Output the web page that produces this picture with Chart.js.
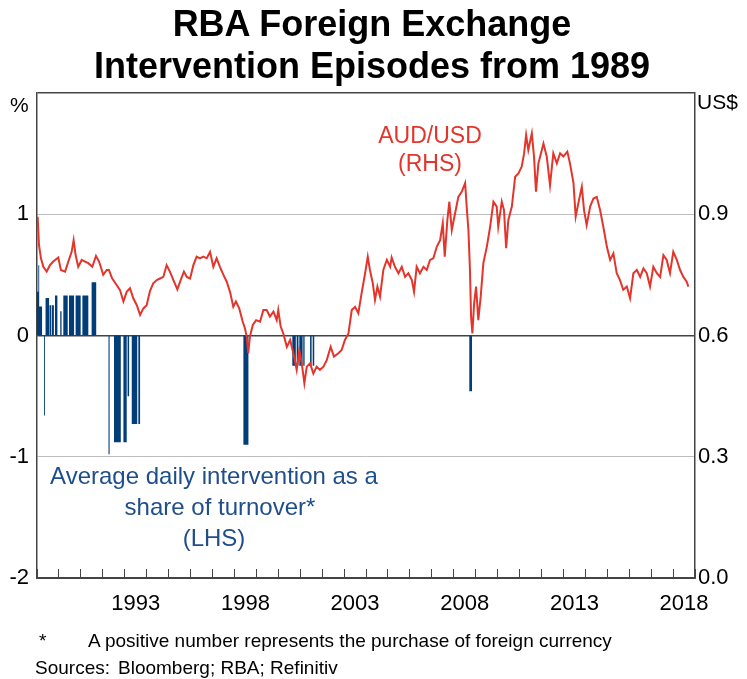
<!DOCTYPE html>
<html>
<head>
<meta charset="utf-8">
<script src="https://cdn.jsdelivr.net/npm/chart.js@4.4.1/dist/chart.umd.min.js"></script>
<style>
  html, body { margin: 0; padding: 0; background: #fff; }
  #wrap { position: relative; width: 747px; height: 679px; font-family: 'Liberation Sans', Arial, sans-serif; }
  #c { position: absolute; left: 0; top: 0; }
  .t { position: absolute; white-space: nowrap; }
  .title { left: 0; width: 744px; top: 3px; text-align: center; font-weight: bold; font-size: 36px; line-height: 42px; color: #000; }
  .unit { font-size: 21px; color: #000; }
  .aud { left: 330px; width: 200px; top: 121px; text-align: center; font-size: 23px; line-height: 28px; color: #e3352b; }
  .lhs { left: 14px; width: 400px; top: 460px; text-align: center; font-size: 24px; line-height: 31px; color: #1f4e8c; }
  .lhs span { position: relative; left: 6px; }
  .note { font-size: 19px; color: #000; }
</style>
</head>
<body>
<div id="wrap">
  <canvas id="c" width="747" height="679"></canvas>
  <div class="t title">RBA Foreign Exchange<br>Intervention Episodes from 1989</div>
  <div class="t unit" style="left:10px; top:93px;">%</div>
  <div class="t unit" style="left:697px; top:90px;">US$</div>
  <div class="t aud">AUD/USD<br>(RHS)</div>
  <div class="t lhs">Average daily intervention as a<br><span>share of turnover*</span><br>(LHS)</div>
  <div class="t note" style="left:39px; top:630px;">*</div>
  <div class="t note" style="left:88px; top:630px;">A positive number represents the purchase of foreign currency</div>
  <div class="t note" style="left:35px; top:657px;">Sources:</div>
  <div class="t note" style="left:118px; top:657px;">Bloomberg; RBA; Refinitiv</div>
</div>
<script>
// AUD/USD (RHS), decimal years
var audYears = [
  1989.03, 1989.09, 1989.18, 1989.29, 1989.44, 1989.59, 1989.74, 1989.97, 1990.09, 1990.28,
  1990.43, 1990.58, 1990.67, 1990.76, 1990.88, 1991.04, 1991.19, 1991.34, 1991.52, 1991.69,
  1991.83, 1992.02, 1992.18, 1992.28, 1992.43, 1992.63, 1992.78, 1992.94, 1993.09, 1993.24,
  1993.39, 1993.55, 1993.70, 1993.85, 1994.00, 1994.15, 1994.30, 1994.46, 1994.61, 1994.76,
  1994.91, 1995.06, 1995.22, 1995.40, 1995.55, 1995.70, 1995.83, 1995.98, 1996.13, 1996.28,
  1996.43, 1996.58, 1996.74, 1996.89, 1997.04, 1997.19, 1997.34, 1997.50, 1997.65, 1997.80,
  1997.95, 1998.07, 1998.22, 1998.38, 1998.48, 1998.56, 1998.63, 1998.71, 1998.84, 1998.99,
  1999.17, 1999.32, 1999.47, 1999.62, 1999.78, 1999.93, 2000.00, 2000.11, 2000.23, 2000.39,
  2000.54, 2000.69, 2000.84, 2000.96, 2001.07, 2001.19, 2001.30, 2001.45, 2001.60, 2001.75,
  2001.90, 2002.06, 2002.21, 2002.39, 2002.54, 2002.74, 2002.89, 2003.04, 2003.20, 2003.35,
  2003.50, 2003.65, 2003.81, 2003.96, 2004.08, 2004.18, 2004.31, 2004.41, 2004.52, 2004.64,
  2004.79, 2004.95, 2005.10, 2005.17, 2005.32, 2005.48, 2005.63, 2005.78, 2005.93, 2006.09,
  2006.19, 2006.31, 2006.46, 2006.62, 2006.77, 2006.92, 2007.07, 2007.23, 2007.38, 2007.50,
  2007.59, 2007.71, 2007.80, 2007.91, 2008.06, 2008.21, 2008.37, 2008.52, 2008.60, 2008.67,
  2008.74, 2008.79, 2008.85, 2008.93, 2009.02, 2009.12, 2009.23, 2009.35, 2009.51, 2009.66,
  2009.81, 2009.96, 2010.03, 2010.19, 2010.29, 2010.39, 2010.49, 2010.65, 2010.80, 2010.95,
  2011.10, 2011.21, 2011.30, 2011.40, 2011.56, 2011.66, 2011.75, 2011.86, 2011.94, 2012.09,
  2012.24, 2012.39, 2012.54, 2012.70, 2012.85, 2013.00, 2013.18, 2013.30, 2013.46, 2013.56,
  2013.71, 2013.84, 2013.94, 2014.06, 2014.22, 2014.37, 2014.52, 2014.67, 2014.82, 2014.98,
  2015.13, 2015.28, 2015.43, 2015.58, 2015.73, 2015.89, 2016.04, 2016.19, 2016.35, 2016.50,
  2016.65, 2016.80, 2016.95, 2017.10, 2017.26, 2017.41, 2017.56, 2017.71, 2017.86, 2018.01,
  2018.17, 2018.32, 2018.47, 2018.62, 2018.70
];
var audValues = [
  0.894, 0.824, 0.791, 0.770, 0.758, 0.774, 0.783, 0.793, 0.762, 0.758,
  0.783, 0.807, 0.836, 0.799, 0.770, 0.787, 0.783, 0.779, 0.770, 0.797,
  0.783, 0.750, 0.762, 0.762, 0.741, 0.725, 0.713, 0.684, 0.708, 0.717,
  0.692, 0.675, 0.651, 0.667, 0.675, 0.710, 0.729, 0.737, 0.741, 0.745,
  0.774, 0.758, 0.737, 0.714, 0.737, 0.758, 0.745, 0.741, 0.774, 0.795,
  0.791, 0.795, 0.791, 0.807, 0.770, 0.791, 0.770, 0.750, 0.733, 0.708,
  0.671, 0.684, 0.667, 0.634, 0.618, 0.598, 0.556, 0.598, 0.626, 0.638,
  0.634, 0.663, 0.663, 0.647, 0.659, 0.638, 0.663, 0.622, 0.605, 0.572,
  0.589, 0.556, 0.515, 0.564, 0.531, 0.482, 0.523, 0.531, 0.506, 0.523,
  0.515, 0.523, 0.539, 0.572, 0.548, 0.556, 0.564, 0.589, 0.605, 0.663,
  0.671, 0.655, 0.708, 0.754, 0.795, 0.762, 0.729, 0.688, 0.721, 0.696,
  0.762, 0.787, 0.770, 0.793, 0.770, 0.754, 0.770, 0.745, 0.754, 0.737,
  0.708, 0.770, 0.754, 0.770, 0.762, 0.787, 0.791, 0.820, 0.836, 0.878,
  0.795, 0.886, 0.931, 0.861, 0.902, 0.943, 0.956, 0.977, 0.911, 0.861,
  0.762, 0.647, 0.605, 0.680, 0.721, 0.638, 0.696, 0.779, 0.820, 0.869,
  0.931, 0.919, 0.869, 0.931, 0.911, 0.816, 0.886, 0.919, 0.993, 1.001,
  1.018, 1.051, 1.096, 1.059, 1.100, 1.043, 0.956, 1.026, 1.043, 1.075,
  1.043, 0.972, 1.051, 1.026, 1.051, 1.043, 1.055, 1.026, 0.977, 0.894,
  0.935, 0.968, 0.911, 0.873, 0.919, 0.939, 0.943, 0.911, 0.869, 0.820,
  0.787, 0.803, 0.754, 0.737, 0.713, 0.721, 0.692, 0.754, 0.762, 0.745,
  0.766, 0.754, 0.721, 0.770, 0.754, 0.745, 0.799, 0.787, 0.754, 0.807,
  0.787, 0.762, 0.745, 0.733, 0.721
];

// Intervention episodes (LHS, % of turnover)
var barStart = [
  1989.00, 1989.06, 1989.10, 1989.32, 1989.39, 1989.57, 1989.67, 1989.82, 1990.06, 1990.20,
  1990.46, 1990.76, 1991.07, 1991.49, 1992.26, 1992.51, 1992.94, 1993.13, 1993.32, 1993.62,
  1998.41, 2000.64, 2000.84, 2000.96, 2001.14, 2001.45, 2001.57, 2008.71
];
var barEnd = [
  1989.06, 1989.10, 1989.23, 1989.36, 1989.55, 1989.64, 1989.77, 1989.93, 1990.12, 1990.40,
  1990.69, 1990.99, 1991.34, 1991.70, 1992.31, 1992.82, 1993.09, 1993.20, 1993.57, 1993.70,
  1998.64, 2000.80, 2000.92, 2001.11, 2001.20, 2001.52, 2001.64, 2008.84
];
var barValue = [
  0.36, 0.58, 0.24, -0.66, 0.31, 0.25, 0.25, 0.33, 0.20, 0.33,
  0.33, 0.33, 0.33, 0.44, -0.98, -0.88, -0.88, -0.50, -0.73, -0.73,
  -0.90, -0.25, -0.25, -0.25, -0.25, -0.25, -0.25, -0.46
];

var labelYears = [1993, 1998, 2003, 2008, 2013, 2018];

(function() {
  var RED = '#e3352b';
  var BLUE = '#003d79';
  var AXIS = '#444';

  Chart.defaults.font.family = "'Liberation Sans', Arial, sans-serif";
  Chart.defaults.color = '#000';

  var audPoints = audYears.map(function(y, i) { return { x: y, y: audValues[i] }; });

  // each episode becomes a step: value from start, back to zero at end
  var barPoints = [];
  barStart.forEach(function(s, i) {
    barPoints.push({ x: s, y: barValue[i] });
    barPoints.push({ x: barEnd[i], y: 0 });
  });

  new Chart(document.getElementById('c'), {
    type: 'line',
    data: {
      datasets: [
        {
          label: 'AUD/USD',
          data: audPoints,
          yAxisID: 'y1',
          borderColor: RED,
          borderWidth: 2,
          pointRadius: 0,
          tension: 0,
          fill: false
        },
        {
          label: 'Intervention',
          data: barPoints,
          yAxisID: 'y',
          stepped: 'before',
          borderWidth: 0,
          borderColor: 'rgba(0,0,0,0)',
          backgroundColor: BLUE,
          pointRadius: 0,
          fill: 'origin'
        }
      ]
    },
    options: {
      responsive: false,
      animation: false,
      layout: { padding: { top: 93, bottom: 61, left: 0, right: 0 } },
      plugins: { legend: { display: false }, tooltip: { enabled: false } },
      scales: {
        x: {
          type: 'linear',
          min: 1989,
          max: 2019,
          afterFit: function(s) { s.height = 40; },
          border: { color: AXIS, width: 1.5 },
          grid: { drawOnChartArea: false, drawTicks: true, tickLength: -9, color: AXIS, lineWidth: 1 },
          ticks: {
            stepSize: 1,
            autoSkip: false,
            maxRotation: 0,
            padding: 22,
            labelOffset: 11,
            font: { size: 22 },
            callback: function(v) { return labelYears.indexOf(v) >= 0 ? String(v) : ''; }
          }
        },
        y: {
          position: 'left',
          min: -2,
          max: 2,
          afterFit: function(s) { s.width = 37; },
          border: { color: AXIS, width: 1.5 },
          grid: {
            drawTicks: false,
            color: function(ctx) {
              var v = ctx.tick && ctx.tick.value;
              return (v === 0 || v === 2 || v === -2) ? AXIS : '#bdbdbd';
            },
            lineWidth: function(ctx) {
              var v = ctx.tick && ctx.tick.value;
              return (v === 0 || v === 2) ? 1.5 : 1;
            }
          },
          ticks: {
            stepSize: 1,
            padding: 8,
            font: { size: 22 },
            callback: function(v) { return v === 2 ? '' : String(v); }
          }
        },
        y1: {
          position: 'right',
          min: 0,
          max: 1.2,
          afterFit: function(s) { s.width = 52; },
          border: { color: AXIS, width: 1.5 },
          grid: { drawOnChartArea: false, drawTicks: false },
          ticks: {
            stepSize: 0.3,
            padding: 3,
            font: { size: 22 },
            callback: function(v) { return v > 1.1 ? '' : v.toFixed(1); }
          }
        }
      }
    }
  });
})();
</script>
</body>
</html>
